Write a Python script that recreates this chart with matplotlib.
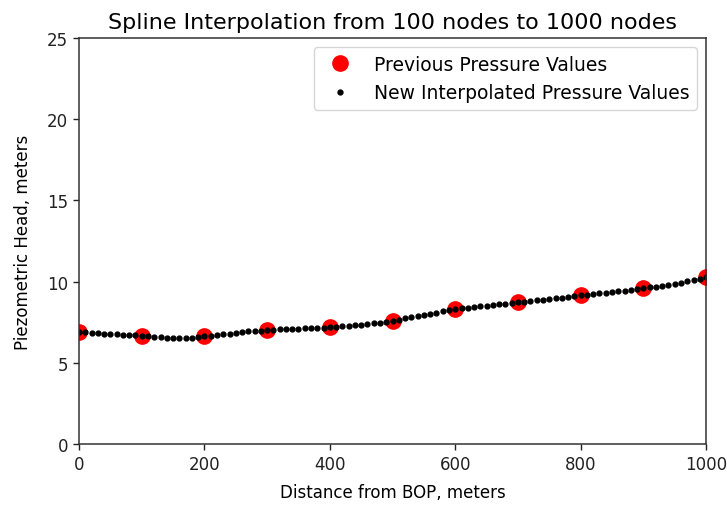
import numpy as np
import matplotlib
matplotlib.use("Agg")
import matplotlib.pyplot as plt

# old nodes (shown every 100 m)
x_old = [0, 100, 200, 300, 400, 500, 600, 700, 800, 900, 1000]
p_old = [6.88, 6.67, 6.63, 7.00, 7.19, 7.59, 8.31, 8.74, 9.15, 9.59, 10.28]

# interpolated values, every 10 m
x_new = np.arange(0, 1001, 10)
p_new = [
    6.88, 6.87, 6.85, 6.83, 6.80, 6.77, 6.75, 6.73, 6.71, 6.69,
    6.67, 6.63, 6.60, 6.57, 6.55, 6.53, 6.52, 6.51, 6.52, 6.56,
    6.63, 6.66, 6.70, 6.75, 6.80, 6.85, 6.89, 6.93, 6.96, 6.98,
    7.00, 7.03, 7.06, 7.08, 7.10, 7.11, 7.12, 7.13, 7.14, 7.16,
    7.19, 7.21, 7.24, 7.27, 7.30, 7.34, 7.38, 7.43, 7.48, 7.53,
    7.59, 7.66, 7.73, 7.80, 7.87, 7.94, 8.01, 8.08, 8.16, 8.23,
    8.31, 8.36, 8.40, 8.44, 8.48, 8.52, 8.56, 8.60, 8.64, 8.68,
    8.73, 8.77, 8.81, 8.85, 8.89, 8.93, 8.97, 9.01, 9.05, 9.10,
    9.15, 9.19, 9.23, 9.27, 9.31, 9.36, 9.40, 9.44, 9.49, 9.54,
    9.59, 9.64, 9.69, 9.75, 9.81, 9.87, 9.94, 10.01, 10.09, 10.18,
    10.28,
]

plt.rcParams['font.family'] = ['DejaVu Sans']
plt.rcParams['font.size'] = 12

fig = plt.figure(figsize=(7.27, 5.06), dpi=100)
ax = fig.add_axes([0.1087, 0.1206, 0.8625, 0.8023])

ax.plot(x_old, p_old, 'o', color='red', markersize=11, label='Previous Pressure Values')
ax.plot(x_new, p_new, '.', color='black', markersize=7, label='New Interpolated Pressure Values')

ax.set_xlim(0, 1000)
ax.set_ylim(0, 25)
ax.set_title('Spline Interpolation from 100 nodes to 1000 nodes', fontsize=16, pad=7)
ax.set_xlabel('Distance from BOP, meters', labelpad=7)
ax.set_ylabel('Piezometric Head, meters', labelpad=11)
ax.tick_params(length=4.5, width=1.0, colors='#222222', labelcolor='#222222')
for s in ax.spines.values():
    s.set_linewidth(1.1)
    s.set_color('#333333')

ax.legend(loc='upper right', numpoints=1, framealpha=0.8, edgecolor='0.8', fontsize=13.5)

fig.savefig('out.png', dpi=100)
